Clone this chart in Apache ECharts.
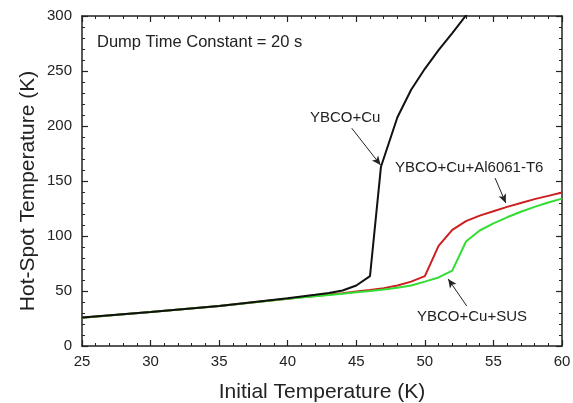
<!DOCTYPE html>
<html>
<head>
<meta charset="utf-8">
<script src="https://cdn.jsdelivr.net/npm/echarts@6/dist/echarts.min.js"></script>
<style>
  html, body { margin: 0; padding: 0; background: #fff; }
  #chart { width: 573px; height: 403px; }
</style>
</head>
<body>
<div id="chart"></div>
<script>
// initial temperature (K) -> hot-spot temperature (K)
var cuX = [25, 30, 35, 40, 41, 42, 43, 44, 45, 46, 46.8, 48, 49, 50, 51, 52, 53, 54];
var cuY = [26, 31, 36.4, 43.5, 45, 46.5, 48.2, 50.5, 55, 63.5, 163, 208, 233, 252, 269, 284.5, 300.5, 316];

var alX = [25, 30, 35, 40, 41, 42, 43, 44, 45, 46, 47, 48, 49, 50, 51, 52, 53, 54, 55, 56, 57, 58, 59, 60];
var alY = [25.7, 31, 36.4, 43, 44.3, 45.5, 46.8, 48, 49.5, 51, 52.6, 55, 58.5, 63.5, 91, 105.5, 113.5, 118.5, 122.5, 126.5, 130, 133.5, 136.5, 139.5];

var susX = [25, 30, 35, 40, 41, 42, 43, 44, 45, 46, 47, 48, 49, 50, 51, 52, 53, 54, 55, 56, 57, 58, 59, 60];
var susY = [25.7, 31, 36.4, 43, 44.2, 45.3, 46.4, 47.5, 48.8, 50, 51.4, 53, 55, 58.5, 62.3, 68.5, 95, 105, 111.5, 117, 122, 126.5, 130.5, 134];

var xTicks = [25, 60, 5];
var yTicks = [0, 300, 50];

function pairs(xs, ys) {
  return xs.map(function (x, i) { return [x, ys[i]]; });
}

// little pointer arrows next to the labels
function arrow(from, to) {
  return {
    silent: true,
    symbol: ["none", "arrow"],
    symbolSize: [6, 9],
    label: { show: false },
    emphasis: { disabled: true },
    lineStyle: { color: "#222", width: 1, type: "solid" },
    animation: false,
    data: [[{ coord: from }, { coord: to }]]
  };
}

var font = "Liberation Sans, Arial, sans-serif";

function xAxisCfg(pos, labels) {
  return {
    type: "value",
    position: pos,
    min: xTicks[0], max: xTicks[1], interval: xTicks[2],
    name: labels ? "Initial Temperature (K)" : "",
    nameLocation: "middle",
    nameGap: 36,
    nameTextStyle: { fontSize: 21, color: "#222", fontFamily: font },
    axisLine: { show: true, onZero: false, lineStyle: { color: "#222", width: 1.5 } },
    axisTick: { show: true, inside: true, length: 6, lineStyle: { color: "#222", width: 1.2 } },
    minorTick: { show: true, splitNumber: 5, length: 3, lineStyle: { color: "#222", width: 1 } },
    axisLabel: { show: labels, fontSize: 15, color: "#222", margin: 8, fontFamily: font },
    splitLine: { show: false }
  };
}

function yAxisCfg(pos, labels) {
  return {
    type: "value",
    position: pos,
    min: yTicks[0], max: yTicks[1], interval: yTicks[2],
    axisLine: { show: true, onZero: false, lineStyle: { color: "#222", width: 1.5 } },
    axisTick: { show: true, inside: true, length: 6, lineStyle: { color: "#222", width: 1.2 } },
    minorTick: { show: true, splitNumber: 5, length: 3, lineStyle: { color: "#222", width: 1 } },
    axisLabel: { show: labels, fontSize: 15, color: "#222", margin: 10, fontFamily: font },
    splitLine: { show: false }
  };
}

var chart = echarts.init(document.getElementById("chart"));
chart.setOption({
  backgroundColor: "#fff",
  animation: false,
  grid: { left: 82, right: 11, top: 16, bottom: 57, containLabel: false, outerBoundsMode: "none" },
  xAxis: [xAxisCfg("bottom", true), xAxisCfg("top", false)],
  yAxis: [yAxisCfg("left", true), yAxisCfg("right", false)],
  graphic: [
    {
      type: "text", x: 28, y: 191, rotation: Math.PI / 2,
      style: { text: "Hot-Spot Temperature (K)", font: "21px " + font, fill: "#222", align: "center", verticalAlign: "middle" }
    },
    { type: "text", left: 97, top: 34, style: { text: "Dump Time Constant = 20 s", font: "16.5px " + font, fill: "#222" } },
    { type: "text", left: 310, top: 110, style: { text: "YBCO+Cu", font: "15px " + font, fill: "#222" } },
    { type: "text", left: 395, top: 160, style: { text: "YBCO+Cu+Al6061-T6", font: "15px " + font, fill: "#222" } },
    { type: "text", left: 417, top: 309, style: { text: "YBCO+Cu+SUS", font: "15px " + font, fill: "#222" } }
  ],
  series: [
    {
      name: "YBCO+Cu",
      type: "line",
      data: pairs(cuX, cuY),
      showSymbol: false,
      clip: true,
      lineStyle: { color: "#111", width: 2 },
      itemStyle: { color: "#111" },
      z: 3,
      markLine: arrow([44.67, 198], [46.77, 164.5])
    },
    {
      name: "YBCO+Cu+Al6061-T6",
      type: "line",
      data: pairs(alX, alY),
      showSymbol: false,
      clip: true,
      lineStyle: { color: "#cc2020", width: 2 },
      itemStyle: { color: "#cc2020" },
      z: 2,
      markLine: arrow([55.12, 152.7], [55.9, 130])
    },
    {
      name: "YBCO+Cu+SUS",
      type: "line",
      data: pairs(susX, susY),
      showSymbol: false,
      clip: true,
      lineStyle: { color: "#33dd33", width: 2 },
      itemStyle: { color: "#33dd33" },
      z: 2,
      markLine: arrow([53.05, 36.4], [51.7, 61])
    }
  ]
});
</script>
</body>
</html>
